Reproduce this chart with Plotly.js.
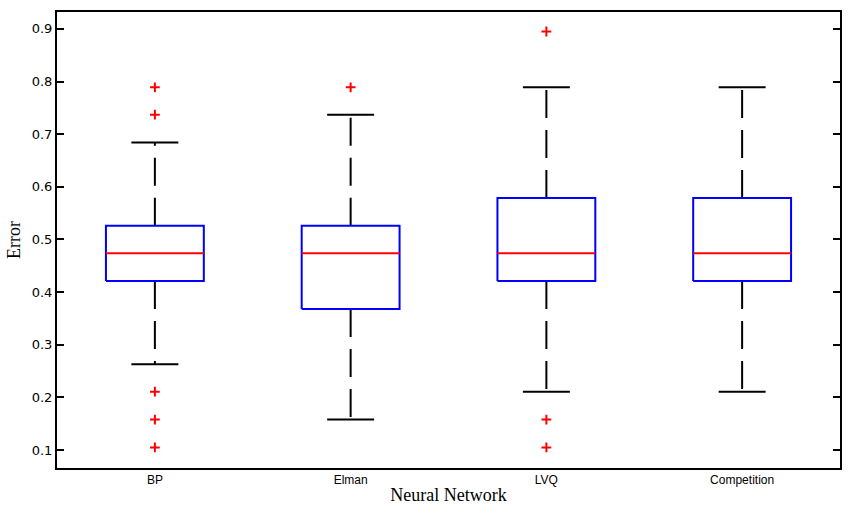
<!DOCTYPE html>
<html>
<head>
<meta charset="utf-8">
<script src="https://cdn.plot.ly/plotly-3.0.1.min.js"></script>
<style>
	html, body { margin: 0; padding: 0; background: #fff; }
	#chart { width: 850px; height: 513px; }
</style>
</head>
<body>
<div id="chart"></div>
<script>
	'use strict';

	// groups (x categories)
	const networks = ['BP', 'Elman', 'LVQ', 'Competition'];

	// box statistics
	const lowerWhisker = [0.263, 0.158, 0.211, 0.211];
	const q1 = [0.421, 0.368, 0.421, 0.421];
	const medians = [0.474, 0.474, 0.474, 0.474];
	const q3 = [0.526, 0.526, 0.579, 0.579];
	const upperWhisker = [0.684, 0.737, 0.789, 0.789];

	// outliers ('+' markers)
	const outliers = [
		[0.789, 0.737, 0.211, 0.158, 0.105],
		[0.789],
		[0.895, 0.158, 0.105],
		[],
	];

	const yTicks = [0.1, 0.2, 0.3, 0.4, 0.5, 0.6, 0.7, 0.8, 0.9];

	const boxHalf = 0.25;  // box half width (x units)
	const capHalf = 0.12;  // whisker cap half width

	const traces = [];

	networks.forEach(( name, i ) => {
		const x = i + 1;

		// dashed whiskers, box to whisker end
		traces.push({
			x: [x, x, null, x, x],
			y: [q3[i], upperWhisker[i], null, q1[i], lowerWhisker[i]],
			type: 'scatter', mode: 'lines',
			line: { color: '#000', width: 2, dash: '28px,12px' },
			hoverinfo: 'skip',
		});

		// caps
		traces.push({
			x: [x - capHalf, x + capHalf, null, x - capHalf, x + capHalf],
			y: [upperWhisker[i], upperWhisker[i], null, lowerWhisker[i], lowerWhisker[i]],
			type: 'scatter', mode: 'lines',
			line: { color: '#000', width: 2 },
			hoverinfo: 'skip',
		});

		// box
		traces.push({
			x: [x - boxHalf, x + boxHalf, x + boxHalf, x - boxHalf, x - boxHalf],
			y: [q1[i], q1[i], q3[i], q3[i], q1[i]],
			type: 'scatter', mode: 'lines',
			line: { color: '#0000ff', width: 2 },
			name: name,
		});

		// median
		traces.push({
			x: [x - boxHalf, x + boxHalf],
			y: [medians[i], medians[i]],
			type: 'scatter', mode: 'lines',
			line: { color: '#ff0000', width: 2 },
			hoverinfo: 'skip',
		});

		// outliers
		if( outliers[i].length ){
			traces.push({
				x: outliers[i].map(() => x),
				y: outliers[i],
				type: 'scatter', mode: 'markers',
				marker: {
					symbol: 'cross-thin', size: 7,
					color: '#ff0000',
					line: { color: '#ff0000', width: 2 },
				},
			});
		}
	});

	const layout = {
		width: 850,
		height: 513,
		showlegend: false,
		paper_bgcolor: '#fff',
		plot_bgcolor: '#fff',
		margin: { l: 57, r: 10, t: 12, b: 45 },
		xaxis: {
			range: [0.5, 4.5],
			tickvals: networks.map(( n, i ) => i + 1),
			ticktext: networks,
			ticks: '',
			showgrid: false,
			zeroline: false,
			showline: true,
			mirror: true,
			linecolor: '#000',
			linewidth: 2,
			tickfont: { family: 'Liberation Sans, Arial, sans-serif', size: 12, color: '#000' },
			title: {
				text: 'Neural Network',
				font: { family: 'Liberation Serif, Times New Roman, serif', size: 18, color: '#000' },
				standoff: 2,
			},
		},
		yaxis: {
			range: [0.066, 0.932],
			tickvals: yTicks,
			ticktext: yTicks.map(( v ) => v.toFixed(1)),
			ticks: 'inside',
			ticklen: 7,
			tickwidth: 2,
			tickcolor: '#000',
			showgrid: false,
			zeroline: false,
			showline: true,
			mirror: 'ticks',
			linecolor: '#000',
			linewidth: 2,
			tickfont: { family: 'DejaVu Sans, Verdana, sans-serif', size: 13, color: '#000' },
			title: {
				text: 'Error',
				font: { family: 'Liberation Serif, Times New Roman, serif', size: 18, color: '#000' },
				standoff: 6,
			},
		},
	};

	Plotly.newPlot('chart', traces, layout, { displayModeBar: false, responsive: false });
</script>
</body>
</html>
